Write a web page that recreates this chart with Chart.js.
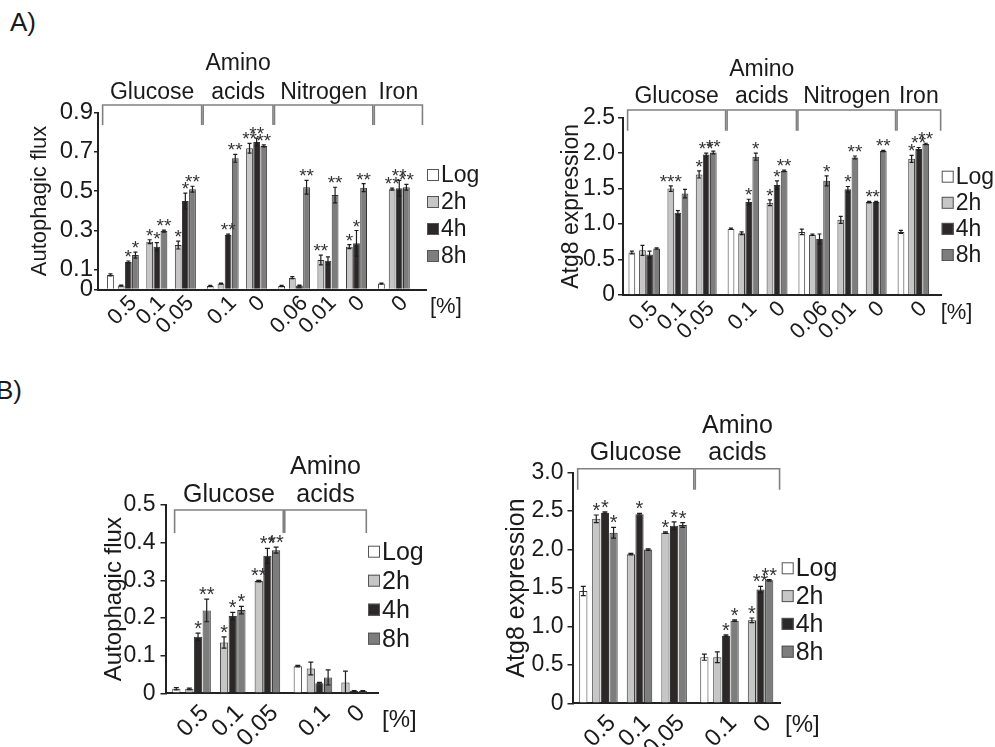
<!DOCTYPE html>
<html><head><meta charset="utf-8">
<script src="https://cdn.jsdelivr.net/npm/chart.js@4.4.1/dist/chart.umd.min.js"></script>
<style>
html,body{margin:0;padding:0;background:#fff;}
body{width:995px;height:747px;position:relative;overflow:hidden;font-family:"Liberation Sans",Arial,Helvetica,sans-serif;}
canvas{position:absolute;}
.plab{position:absolute;font-size:26px;line-height:26px;color:#1a1a1a;white-space:nowrap;}
</style></head><body>
<div class="plab" style="left:10px;top:9px">A)</div>
<div class="plab" style="left:-4px;top:377px">B)</div>
<canvas id="cA1" width="490" height="320" style="left:0px;top:30px"></canvas>
<canvas id="cA2" width="500" height="320" style="left:495px;top:30px"></canvas>
<canvas id="cB1" width="430" height="347" style="left:60px;top:400px"></canvas>
<canvas id="cB2" width="500" height="347" style="left:495px;top:400px"></canvas>
<script>
// ---------------- DATA ----------------
const SERIES = ['Log', '2h', '4h', '8h'];

// Panel A, left: Autophagic flux
const A1_conc = ['0.5','0.1','0.05','0.1','0','0.06','0.01','0','0'];
const A1_nutrient = ['Glucose','Glucose','Glucose','Amino acids','Amino acids','Nitrogen','Nitrogen','Nitrogen','Iron'];
const A1_log = [0.074, null, null, 0.018, null, 0.018, null, null, 0.03];
const A1_2h = [0.02, 0.243, 0.226, 0.03, 0.718, 0.06, 0.15, 0.218, 0.51];
const A1_4h = [0.14, 0.218, 0.45, 0.277, 0.75, 0.02, 0.146, 0.235, 0.515];
const A1_8h = [0.175, 0.297, 0.51, 0.667, 0.73, 0.52, 0.48, 0.518, 0.52];
const A1_logErr = [0.005, null, null, 0.003, null, 0.003, null, null, 0.003];
const A1_2hErr = [0.003, 0.01, 0.02, 0.003, 0.025, 0.005, 0.025, 0.01, 0.005];
const A1_4hErr = [0.005, 0.02, 0.04, 0.005, 0.02, 0.003, 0.02, 0.065, 0.04];
const A1_8hErr = [0.015, 0.005, 0.015, 0.02, 0.005, 0.035, 0.04, 0.02, 0.015];
const A1_2hSig = ['', '*', '*', '', '**', '', '**', '*', '**'];
const A1_4hSig = ['*', '*', '*', '**', '**', '', '', '*', '**'];
const A1_8hSig = ['*', '**', '**', '**', '**', '**', '**', '**', '**'];
const A1_yTicks = [0, 0.1, 0.3, 0.5, 0.7, 0.9];
const A1_yTickLabels = ['0', '0.1', '0.3', '0.5', '0.7', '0.9'];

// Panel A, right: Atg8 expression
const A2_conc = ['0.5','0.1','0.05','0.1','0','0.06','0.01','0','0'];
const A2_nutrient = ['Glucose','Glucose','Glucose','Amino acids','Amino acids','Nitrogen','Nitrogen','Nitrogen','Iron'];
const A2_log = [0.6, null, null, 0.935, null, 0.89, null, null, 0.89];
const A2_2h = [0.63, 1.5, 1.7, 0.87, 1.3, 0.85, 1.06, 1.31, 1.92];
const A2_4h = [0.57, 1.16, 1.98, 1.31, 1.55, 0.79, 1.49, 1.31, 2.06];
const A2_8h = [0.655, 1.43, 2.01, 1.95, 1.75, 1.61, 1.94, 2.03, 2.13];
const A2_logErr = [0.02, null, null, 0.01, null, 0.04, null, null, 0.02];
const A2_2hErr = [0.07, 0.04, 0.05, 0.02, 0.04, 0.01, 0.05, 0.01, 0.05];
const A2_4hErr = [0.05, 0.03, 0.02, 0.04, 0.06, 0.07, 0.04, 0.01, 0.02];
const A2_8hErr = [0.01, 0.06, 0.02, 0.05, 0.01, 0.07, 0.02, 0.01, 0.01];
const A2_2hSig = ['', '***', '*', '', '*', '', '', '*', '*'];
const A2_4hSig = ['', '', '**', '*', '*', '', '*', '*', '**'];
const A2_8hSig = ['', '', '**', '*', '**', '*', '**', '**', '**'];
const A2_yTicks = [0, 0.5, 1.0, 1.5, 2.0, 2.5];
const A2_yTickLabels = ['0', '0.5', '1.0', '1.5', '2.0', '2.5'];

// Panel B, left: Autophagic flux
const B1_conc = ['0.5','0.1','0.05','0.1','0'];
const B1_nutrient = ['Glucose','Glucose','Glucose','Amino acids','Amino acids'];
const B1_log = [0.012, null, null, 0.072, null];
const B1_2h = [0.012, 0.135, 0.298, 0.066, 0.029];
const B1_4h = [0.15, 0.205, 0.365, 0.027, 0.006];
const B1_8h = [0.22, 0.221, 0.38, 0.042, 0.006];
const B1_logErr = [0.003, null, null, 0.002, null];
const B1_2hErr = [0.002, 0.015, 0.002, 0.017, 0.03];
const B1_4hErr = [0.01, 0.01, 0.02, 0.002, 0.001];
const B1_8hErr = [0.03, 0.01, 0.008, 0.02, 0.001];
const B1_2hSig = ['', '*', '**', '', ''];
const B1_4hSig = ['*', '*', '**', '', ''];
const B1_8hSig = ['**', '*', '**', '', ''];
const B1_yTicks = [0, 0.1, 0.2, 0.3, 0.4, 0.5];
const B1_yTickLabels = ['0', '0.1', '0.2', '0.3', '0.4', '0.5'];

// Panel B, right: Atg8 expression
const B2_conc = ['0.5','0.1','0.05','0.1','0'];
const B2_nutrient = ['Glucose','Glucose','Glucose','Amino acids','Amino acids'];
const B2_log = [1.46, null, null, 0.6, null];
const B2_2h = [2.4, 1.94, 2.22, 0.6, 1.08];
const B2_4h = [2.48, 2.46, 2.31, 0.88, 1.48];
const B2_8h = [2.22, 2.0, 2.32, 1.075, 1.6];
const B2_logErr = [0.06, null, null, 0.04, null];
const B2_2hErr = [0.05, 0.01, 0.01, 0.07, 0.03];
const B2_4hErr = [0.01, 0.01, 0.05, 0.01, 0.04];
const B2_8hErr = [0.07, 0.01, 0.03, 0.01, 0.01];
const B2_2hSig = ['*', '', '*', '', '*'];
const B2_4hSig = ['*', '*', '*', '*', '**'];
const B2_8hSig = ['*', '', '*', '*', '**'];
const B2_yTicks = [0, 0.5, 1.0, 1.5, 2.0, 2.5, 3.0];
const B2_yTickLabels = ['0', '0.5', '1.0', '1.5', '2.0', '2.5', '3.0'];

// ---------------- STYLE / LAYOUT ----------------
const FONT = '"Liberation Sans", Arial, Helvetica, sans-serif';
const TXT = '#1a1a1a';
const FILL = ['#ffffff', '#c6c6c6', '#2c2828', '#7d7d7d'];
Chart.defaults.font.family = FONT;

const PANELS = [
  { id: 'cA1', title: 'Autophagic flux', conc: A1_conc, nutrient: A1_nutrient,
    values: [A1_log, A1_2h, A1_4h, A1_8h], errors: [A1_logErr, A1_2hErr, A1_4hErr, A1_8hErr],
    sigs: [A1_2hSig, A1_4hSig, A1_8hSig], yTicks: A1_yTicks, yTickLabels: A1_yTickLabels,
    L: { canvas: {left: 0, top: 30, w: 490, h: 320}, area: {l: 98, t: 112.5, r: 426, b: 289.5},
         lead: 3, total: 92, fy: 24, fx: 22, ft: 22, fb: 23, fl: 23, fs: 19, titleX: 40,
         yTick: 4, yPad: 1, xPad: 1, xOff: 5,
         br: {top: -7.5, bottom: 12.5, firstPad: 2.2, leftPad: 2.0, endPad: 4.5, gap: 1.5, labelGap: 6, lineGap: 29},
         lg: {dx: 1, dy: 62.5, step: 27}, pc: {dx: 4, dy: 17}, starDy: 2 } },
  { id: 'cA2', title: 'Atg8 expression', conc: A2_conc, nutrient: A2_nutrient,
    values: [A2_log, A2_2h, A2_4h, A2_8h], errors: [A2_logErr, A2_2hErr, A2_4hErr, A2_8hErr],
    sigs: [A2_2hSig, A2_4hSig, A2_8hSig], yTicks: A2_yTicks, yTickLabels: A2_yTickLabels,
    L: { canvas: {left: 495, top: 30, w: 500, h: 320}, area: {l: 623, t: 117.7, r: 941.7, b: 295},
         lead: 2, total: 90, fy: 23, fx: 22, ft: 23, fb: 23, fl: 23, fs: 19, titleX: 571.7,
         yTick: 5, yPad: 3, xPad: 1, xOff: 5,
         br: {top: -7.7, bottom: 13, firstPad: 1.2, leftPad: 1.1, endPad: 4.2, gap: 1.5, labelGap: 7, lineGap: 27},
         lg: {dx: 0, dy: 59, step: 26.1}, pc: {dx: -1, dy: 18}, starDy: 2 } },
  { id: 'cB1', title: 'Autophagic flux', conc: B1_conc, nutrient: B1_nutrient,
    values: [B1_log, B1_2h, B1_4h, B1_8h], errors: [B1_logErr, B1_2hErr, B1_4hErr, B1_8hErr],
    sigs: [B1_2hSig, B1_4hSig, B1_8hSig], yTicks: B1_yTicks, yTickLabels: B1_yTickLabels,
    L: { canvas: {left: 60, top: 400, w: 430, h: 347}, area: {l: 165.5, t: 505, r: 378, b: 693.3},
         lead: 2, total: 49, fy: 23, fx: 24, ft: 24, fb: 25, fl: 25, fs: 20, titleX: 114,
         yTick: 5, yPad: 5, xPad: 6, xOff: 7,
         br: {top: 5, bottom: 28, firstPad: 0.4, leftPad: 3.0, endPad: 0.8, gap: 1.5, labelGap: 8, lineGap: 28},
         lg: {dx: -10, dy: 46.7, step: 29}, pc: {dx: 4, dy: 27}, starDy: 2 } },
  { id: 'cB2', title: 'Atg8 expression', conc: B2_conc, nutrient: B2_nutrient,
    values: [B2_log, B2_2h, B2_4h, B2_8h], errors: [B2_logErr, B2_2hErr, B2_4hErr, B2_8hErr],
    sigs: [B2_2hSig, B2_4hSig, B2_8hSig], yTicks: B2_yTicks, yTickLabels: B2_yTickLabels,
    L: { canvas: {left: 495, top: 400, w: 500, h: 347}, area: {l: 572.5, t: 472.7, r: 780, b: 703.3},
         lead: 2, total: 48, fy: 23, fx: 24, ft: 25, fb: 25, fl: 25, fs: 20, titleX: 517,
         yTick: 5, yPad: 4, xPad: 6, xOff: 7,
         br: {top: -4, bottom: 17, firstPad: 1.3, leftPad: 2.1, endPad: 2.4, gap: 1.5, labelGap: 9, lineGap: 27},
         lg: {dx: 1.7, dy: 95.6, step: 27.8}, pc: {dx: 5, dy: 22}, starDy: 2 } }
];

// Build slot table: Log bar then 3 adjacent bars (2h,4h,8h) per concentration.
function buildSlots(P) {
  const n = P.L.total;
  const labels = new Array(n).fill('');
  const series = [0,1,2,3].map(() => new Array(n).fill(null));
  const errs = [0,1,2,3].map(() => new Array(n).fill(null));
  const sigs = [0,1,2,3].map(() => new Array(n).fill(''));
  const groups = [];
  let cur = null, prev = null;
  for (let i = 0; i < P.conc.length; i++) {
    let s2;
    if (P.nutrient[i] !== prev) {
      const logPos = cur === null ? P.L.lead : cur + 5;
      series[0][logPos] = P.values[0][i];
      errs[0][logPos] = P.errors[0][i];
      groups.push({ name: P.nutrient[i], first: logPos, last: null });
      s2 = logPos + 3;
    } else {
      s2 = cur + 4;
    }
    for (let k = 1; k < 4; k++) {
      const pos = s2 + 2 * (k - 1);
      series[k][pos] = P.values[k][i];
      errs[k][pos] = P.errors[k][i];
      sigs[k][pos] = P.sigs[k - 1][i] || '';
    }
    labels[s2 + 2] = P.conc[i];
    cur = s2 + 4;
    groups[groups.length - 1].last = cur;
    prev = P.nutrient[i];
  }
  return { labels, series, errs, sigs, groups };
}

function makeChart(P) {
  const L = P.L, C = L.canvas, A = L.area;
  const S = buildSlots(P);
  const padTop = A.t - C.top, yWidth = A.l - C.left;
  const xHeight = C.top + C.h - A.b, padRight = C.left + C.w - A.r;
  const titlePad = (L.titleX - C.left) - L.ft * 1.2 / 2;

  const fig = {
    id: 'fig_' + P.id,
    afterDatasetsDraw(chart) {
      const ctx = chart.ctx, ys = chart.scales.y;
      ctx.save();
      for (let k = 0; k < 4; k++) {
        const meta = chart.getDatasetMeta(k);
        for (let i = 0; i < S.series[k].length; i++) {
          const v = S.series[k][i];
          if (v === null || v === undefined) continue;
          const bar = meta.data[i];
          const e = S.errs[k][i] || 0;
          const cx = bar.x, hw = bar.width * 0.3;
          const yt = ys.getPixelForValue(v + e);
          const yb = ys.getPixelForValue(Math.max(0, v - e));
          if (e > 0) {
            ctx.strokeStyle = '#1e1e1e'; ctx.lineWidth = 1.2;
            ctx.beginPath();
            ctx.moveTo(cx, yb); ctx.lineTo(cx, yt);
            ctx.moveTo(cx - hw, yt); ctx.lineTo(cx + hw, yt);
            ctx.moveTo(cx - hw, yb); ctx.lineTo(cx + hw, yb);
            ctx.stroke();
          }
          const s = S.sigs[k][i];
          if (s) {
            ctx.font = L.fs + 'px ' + FONT;
            ctx.fillStyle = '#333';
            ctx.textAlign = 'center'; ctx.textBaseline = 'alphabetic';
            ctx.fillText(s, cx, Math.min(yt, ys.getPixelForValue(v)) + L.starDy);
          }
        }
      }
      ctx.restore();
    },
    afterDraw(chart) {
      const ctx = chart.ctx, xs = chart.scales.x, ca = chart.chartArea;
      const h = xs.getPixelForValue(1) - xs.getPixelForValue(0);
      ctx.save();
      // brackets with nutrient labels
      const top = ca.top + L.br.top, bot = ca.top + L.br.bottom;
      S.groups.forEach((g, gi) => {
        const left = xs.getPixelForValue(g.first) - (gi === 0 ? L.br.firstPad : L.br.leftPad) * h;
        let right;
        if (gi < S.groups.length - 1) right = xs.getPixelForValue(S.groups[gi + 1].first) - L.br.leftPad * h - L.br.gap;
        else right = xs.getPixelForValue(g.last) + L.br.endPad * h;
        ctx.strokeStyle = '#808080'; ctx.lineWidth = 1.6;
        ctx.beginPath();
        ctx.moveTo(left, bot); ctx.lineTo(left, top); ctx.lineTo(right, top); ctx.lineTo(right, bot);
        ctx.stroke();
        const words = g.name.split(' ');
        ctx.fillStyle = TXT; ctx.font = L.fb + 'px ' + FONT;
        ctx.textAlign = 'center'; ctx.textBaseline = 'alphabetic';
        const cx = (left + right) / 2;
        words.forEach((w, wi) => {
          ctx.fillText(w, cx, top - L.br.labelGap - (words.length - 1 - wi) * L.br.lineGap);
        });
      });
      // legend
      const x0 = ca.right + L.lg.dx;
      let yc = ca.top + L.lg.dy;
      SERIES.forEach((nm, k) => {
        ctx.fillStyle = FILL[k];
        ctx.fillRect(x0, yc - 6, 12, 12);
        ctx.strokeStyle = '#555'; ctx.lineWidth = 1;
        ctx.strokeRect(x0 + 0.5, yc - 5.5, 11, 11);
        ctx.fillStyle = TXT; ctx.font = L.fl + 'px ' + FONT;
        ctx.textAlign = 'left'; ctx.textBaseline = 'middle';
        ctx.fillText(nm, x0 + 14, yc + 1);
        yc += L.lg.step;
      });
      // unit
      ctx.fillStyle = TXT; ctx.font = L.fx + 'px ' + FONT;
      ctx.textAlign = 'left'; ctx.textBaseline = 'middle';
      ctx.fillText('[%]', ca.right + L.pc.dx, ca.bottom + L.pc.dy);
      ctx.restore();
    }
  };

  return new Chart(document.getElementById(P.id), {
    type: 'bar',
    data: {
      labels: S.labels,
      datasets: SERIES.map((name, k) => ({
        label: name, data: S.series[k], backgroundColor: FILL[k],
        borderColor: '#353535', borderWidth: 1, grouped: false,
        categoryPercentage: 1, barPercentage: 1.9
      }))
    },
    options: {
      responsive: false, animation: false,
      layout: { padding: { left: 0, top: padTop, right: padRight, bottom: 0 } },
      plugins: { legend: { display: false }, tooltip: { enabled: false } },
      scales: {
        x: {
          grid: { display: false, drawTicks: false },
          border: { display: true, color: '#222', width: 2 },
          ticks: { autoSkip: false, maxRotation: 45, minRotation: 45, padding: L.xPad, labelOffset: L.xOff,
                   color: TXT, font: { family: FONT, size: L.fx } },
          afterFit: (s) => { s.height = xHeight; }
        },
        y: {
          min: 0, max: P.yTicks[P.yTicks.length - 1],
          afterBuildTicks: (s) => { s.ticks = P.yTicks.map(v => ({ value: v })); },
          ticks: { callback: (v, i) => P.yTickLabels[i], padding: L.yPad, color: TXT,
                   font: { family: FONT, size: L.fy } },
          grid: { drawOnChartArea: false, drawTicks: true, tickLength: L.yTick, color: '#222', lineWidth: 1.5 },
          border: { display: true, color: '#222', width: 2 },
          title: { display: true, text: P.title, color: TXT, font: { family: FONT, size: L.ft },
                   padding: { top: titlePad, bottom: 0 } },
          afterFit: (s) => { s.width = yWidth; }
        }
      }
    },
    plugins: [fig]
  });
}

PANELS.forEach(makeChart);
</script>
</body></html>
